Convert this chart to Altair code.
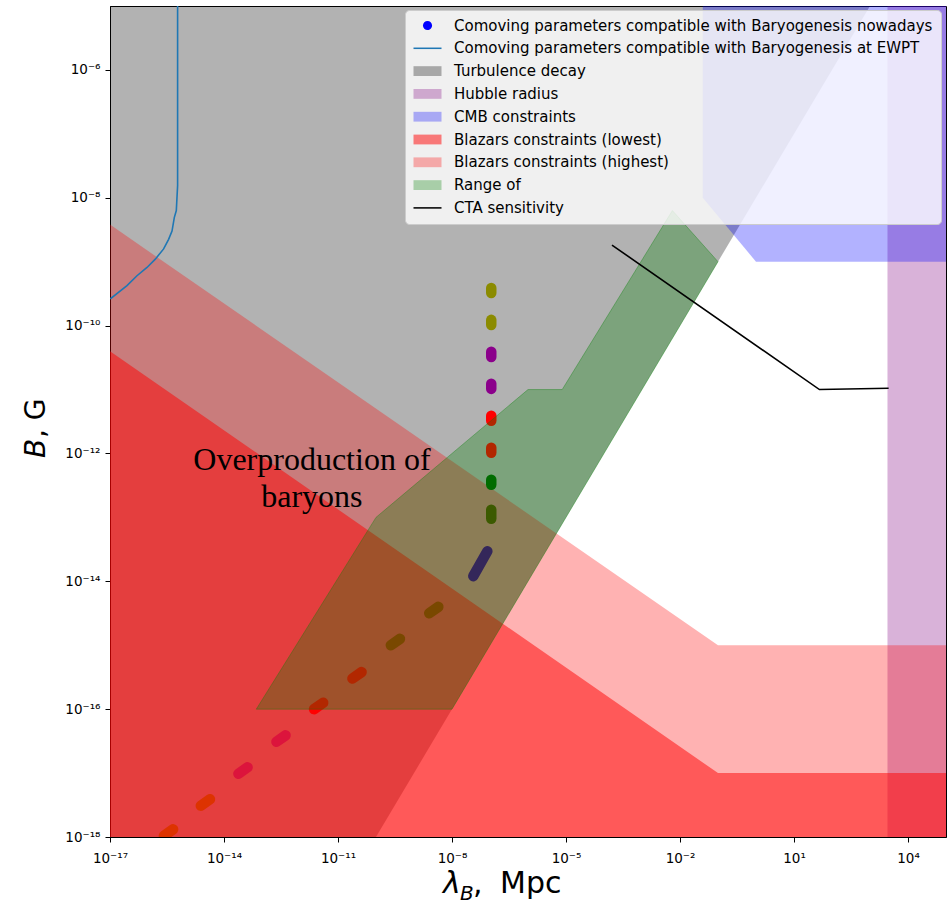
import altair as alt
import pandas as pd

# ---------------------------------------------------------------------------
# Values are stored as log10 exponents (lambda in Mpc, B in Gauss)
# ---------------------------------------------------------------------------
x_tick_exp = [-17, -14, -11, -8, -5, -2, 1, 4]
y_tick_exp = [-18, -16, -14, -12, -10, -8, -6]

# Turbulence decay: region above B = 1e-8 G * (lambda / Mpc)
turb_lam = [-17.0, -10.0, 3.0, -17.0]
turb_B = [-18.0, -18.0, -5.0, -5.0]

# Hubble radius band (lambda from ~3000 Mpc upward)
hubble_lam = [3.46, 5.0]
hubble_B = [-18.0, -5.0]

# CMB constraints
cmb_lam = [-1.4, -1.4, 0.0, 5.0, 5.0]
cmb_B = [-5.0, -8.0, -9.0, -9.0, -5.0]

# Blazar lower bounds (everything below is excluded)
blz_lam = [-17.0, -1.0, 5.0]
blz_low_B = [-10.4, -17.0, -17.0]
blz_high_B = [-8.42, -15.0, -15.0]

# "Range of" polygon
range_lam = [-13.15, -8.0, -1.0, -2.2, -5.1, -6.0, -10.0]
range_B = [-16.0, -16.0, -9.0, -8.2, -11.0, -11.0, -13.0]

# CTA sensitivity curve
cta_lam = [-3.79, 1.67, 3.49]
cta_B = [-8.74, -11.0, -10.98]

# Baryogenesis-compatible comoving parameters at the EWPT
ewpt_lam = [-15.221, -15.221, -15.255, -15.308, -15.368, -15.458, -15.589,
            -15.808, -16.026, -16.29, -16.553, -16.992]
ewpt_B = [-5.0, -7.81, -8.20, -8.31, -8.52, -8.65, -8.80,
          -8.96, -9.09, -9.22, -9.375, -9.58]

# Baryogenesis-compatible parameters nowadays: short dashes (start -> end)
dash_lam_start = [-6.967] * 8 + [-7.07, -8.36, -9.37, -10.38, -11.39,
                                 -12.38, -13.38, -14.37, -15.34]
dash_lam_end = [-6.967] * 8 + [-7.44, -8.60, -9.61, -10.62, -11.63,
                               -12.62, -13.62, -14.61, -15.58]
dash_B_start = [-9.41, -9.91, -10.41, -10.91, -11.41, -11.91, -12.41, -12.88,
                -13.53, -14.40, -14.90, -15.42, -15.90, -16.41, -16.91,
                -17.41, -17.88]
dash_B_end = [-9.49, -9.99, -10.49, -10.99, -11.49, -11.99, -12.49, -13.02,
              -13.92, -14.50, -15.00, -15.52, -16.00, -16.51, -17.01,
              -17.51, -17.98]
dash_colors = ["#8b8b00", "#8b8b00", "#8b008b", "#8b008b", "#ff0000",
               "#ff0000", "#006400", "#564a00", "#4b0082", "#ae3000",
               "#ae3000", "#ff0000", "#ff0000", "#dc143c", "#dc143c",
               "#dd3300", "#dd3300"]

# Annotation
note_lam, note_B = -11.687, -12.266
note_text = "Overproduction of\nbaryons"

# Legend entries
legend_labels = [
    "Comoving parameters compatible with Baryogenesis nowadays",
    "Comoving parameters compatible with Baryogenesis at EWPT",
    "Turbulence decay",
    "Hubble radius",
    "CMB constraints",
    "Blazars constraints (lowest)",
    "Blazars constraints (highest)",
    "Range of",
    "CTA sensitivity",
]
legend_colors = ["#0000ff", "#1f77b4", "#a8a8a8", "#cea8ce", "#a8a8f4",
                 "#f87878", "#f4a8a8", "#a8cea8", "#000000"]

# ---------------------------------------------------------------------------
def pw(values):
    return [10.0 ** v for v in values]


def poly_df(lam, B, close=False):
    lam, B = list(lam), list(B)
    if close:
        lam, B = lam + lam[:1], B + B[:1]
    return pd.DataFrame({"lam": pw(lam), "B": pw(B), "i": range(len(lam))})


sup_expr = "('' + round(log(datum.value) / LN10))"
for plain, sup in zip("-0123456789", "⁻⁰¹²³⁴⁵⁶⁷⁸⁹"):
    sup_expr = f"replace({sup_expr}, regexp('{plain}', 'g'), '{sup}')"
label_expr = "'10' + " + sup_expr

xscale = alt.Scale(type="log", domain=[1e-17, 1e5], nice=False)
yscale = alt.Scale(type="log", domain=[1e-18, 1e-5], nice=False)
common_axis = dict(labelExpr=label_expr, grid=False, labelFont="DejaVu Sans",
                   labelFontSize=13.5, labelColor="black", tickColor="black",
                   tickSize=5, tickWidth=1, domainColor="black",
                   labelOverlap=False, labelFlush=False)
xaxis = alt.Axis(values=pw(x_tick_exp), labelPadding=9, **common_axis)
yaxis = alt.Axis(values=pw(y_tick_exp), labelPadding=5, **common_axis)


def X(field):
    return alt.X(field, type="quantitative", scale=xscale, axis=xaxis, title=None)


def Y(field):
    return alt.Y(field, type="quantitative", scale=yscale, axis=yaxis, title=None)


hubble = alt.Chart(pd.DataFrame({
    "l0": [10.0 ** hubble_lam[0]], "l1": [10.0 ** hubble_lam[1]],
    "b0": [10.0 ** hubble_B[0]], "b1": [10.0 ** hubble_B[1]],
})).mark_rect(color="purple", opacity=0.3, clip=True).encode(
    x=X("l0"), x2="l1", y=Y("b0"), y2="b1")

turb = alt.Chart(poly_df(turb_lam, turb_B)).mark_line(
    fill="black", fillOpacity=0.3, strokeOpacity=0, strokeWidth=0, clip=True
).encode(x=X("lam"), y=Y("B"), order="i:Q")

cmb = alt.Chart(poly_df(cmb_lam, cmb_B)).mark_line(
    fill="blue", fillOpacity=0.3, strokeOpacity=0, strokeWidth=0, clip=True
).encode(x=X("lam"), y=Y("B"), order="i:Q")

blz_high = alt.Chart(poly_df(blz_lam, blz_high_B)).mark_area(
    color="red", opacity=0.3, clip=True
).encode(x=X("lam"), y=Y("B"), y2=alt.datum(1e-18))

blz_low = alt.Chart(poly_df(blz_lam, blz_low_B)).mark_area(
    color="red", opacity=0.5, clip=True
).encode(x=X("lam"), y=Y("B"), y2=alt.datum(1e-18))

dash_rows = []
for k, c in enumerate(dash_colors):
    dash_rows.append({"dash": k, "i": 0, "lam": 10.0 ** dash_lam_start[k],
                      "B": 10.0 ** dash_B_start[k], "c": c})
    dash_rows.append({"dash": k, "i": 1, "lam": 10.0 ** dash_lam_end[k],
                      "B": 10.0 ** dash_B_end[k], "c": c})
dashes = alt.Chart(pd.DataFrame(dash_rows)).mark_line(
    strokeWidth=10.5, strokeCap="round", clip=True
).encode(x=X("lam"), y=Y("B"), detail="dash:N", order="i:Q",
         stroke=alt.Stroke("c:N", scale=None))

green = alt.Chart(poly_df(range_lam, range_B, close=True)).mark_line(
    fill="green", fillOpacity=0.3, stroke="green", strokeOpacity=0.35,
    strokeWidth=1, clip=True
).encode(x=X("lam"), y=Y("B"), order="i:Q")

ewpt = alt.Chart(poly_df(ewpt_lam, ewpt_B)).mark_line(
    color="#1f77b4", strokeWidth=1.6, clip=True
).encode(x=X("lam"), y=Y("B"), order="i:Q")

cta = alt.Chart(poly_df(cta_lam, cta_B)).mark_line(
    color="black", strokeWidth=1.6, clip=True
).encode(x=X("lam"), y=Y("B"), order="i:Q")

note = alt.Chart(pd.DataFrame({
    "lam": [10.0 ** note_lam], "B": [10.0 ** note_B], "t": [note_text]
})).mark_text(
    font="Liberation Serif", fontSize=32, lineBreak="\n", lineHeight=37,
    align="center", baseline="alphabetic", color="black"
).encode(x=X("lam"), y=Y("B"), text="t:N")

one = pd.DataFrame({"k": [0]})


def label(text, x, y, size=28, style="normal", angle=0):
    return alt.Chart(one).mark_text(
        font="DejaVu Sans", fontSize=size, fontStyle=style, angle=angle,
        align="left", baseline="alphabetic", color="black"
    ).encode(x=alt.value(x), y=alt.value(y), text=alt.value(text))


titles = [
    label("λ", 333, 887, size=30, style="italic"),
    label("B", 350, 894, size=20, style="italic"),
    label(",", 363, 887, size=30),
    label("Mpc", 390, 887, size=30),
    label("B", -65, 452, style="italic", angle=270),
    label(", G", -65, 432, angle=270),
]

sym_paths = [
    "M0.65,0A0.65,0.65,0,1,1,-0.65,0A0.65,0.65,0,1,1,0.65,0Z",
    "M-2,-0.11H2V0.11H-2Z",
] + ["M-2,-0.7H2V0.7H-2Z"] * 6 + ["M-2,-0.11H2V0.11H-2Z"]

leg = alt.Legend(
    title=None, orient="none", legendX=295, legendY=4,
    fillColor="rgba(255,255,255,0.8)", strokeColor="#cccccc",
    cornerRadius=4, padding=8, labelFont="DejaVu Sans", labelFontSize=15,
    labelColor="black", labelLimit=0, rowPadding=6.8, symbolSize=196,
    symbolOffset=7, labelOffset=19, symbolStrokeWidth=0,
)
# legend-only layer: its marks sit outside the plot area and are clipped
legend_layer = alt.Chart(pd.DataFrame({"series": legend_labels})).mark_point(
    filled=True, opacity=1, clip=True
).encode(
    x=alt.value(-500), y=alt.value(-500),
    color=alt.Color("series:N", scale=alt.Scale(domain=legend_labels,
                                                range=legend_colors), legend=leg),
    shape=alt.Shape("series:N", scale=alt.Scale(domain=legend_labels,
                                                range=sym_paths), legend=leg),
)

chart = alt.layer(
    hubble, turb, cmb, blz_high, blz_low, dashes, green, ewpt, cta, note,
    *titles, legend_layer
).properties(
    width=836, height=831,
    padding={"left": 110, "top": 6, "right": 4, "bottom": 69},
    autosize=alt.AutoSizeParams(type="none"),
    background="white",
).configure_view(stroke="black", strokeWidth=1)

chart.save("out.html", embed_options={"renderer": "svg", "actions": False})
